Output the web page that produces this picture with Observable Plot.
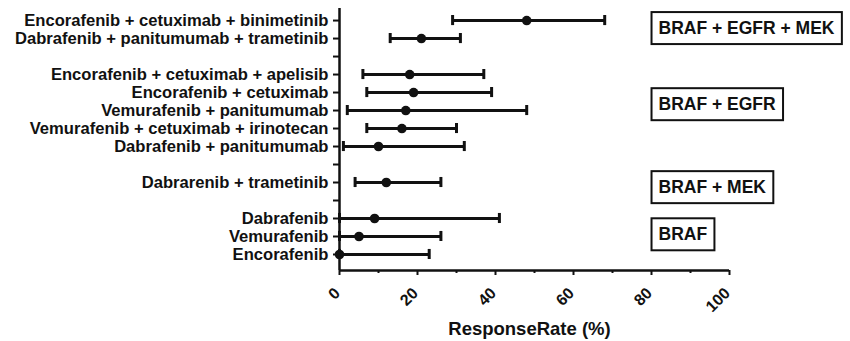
<!DOCTYPE html>
<html><head><meta charset="utf-8">
<script src="https://cdn.jsdelivr.net/npm/d3@7"></script>
<script src="https://cdn.jsdelivr.net/npm/@observablehq/plot@0.6"></script>
<style>
body{margin:0;background:#fff;}
#chart svg{font-family:"Liberation Sans",Arial,sans-serif;font-weight:bold;}
</style>
</head><body><div id="chart"></div>
<script>
// Row labels (empty strings are spacer rows that still carry a tick)
const rowLabels = [
  "Encorafenib + cetuximab + binimetinib",
  "Dabrafenib + panitumumab + trametinib",
  "",
  "Encorafenib + cetuximab + apelisib",
  "Encorafenib + cetuximab",
  "Vemurafenib + panitumumab",
  "Vemurafenib + cetuximab + irinotecan",
  "Dabrafenib + panitumumab",
  "",
  "Dabrarenib + trametinib",
  "",
  "Dabrafenib",
  "Vemurafenib",
  "Encorafenib"
];
const rowIndex     = [0, 1, 3, 4, 5, 6, 7, 9, 11, 12, 13];
const responseRate = [48, 21, 18, 19, 17, 16, 10, 12, 9, 5, 0];
const ciLow        = [29, 13, 6, 7, 2, 7, 1, 4, 0, 0, 0];
const ciHigh       = [68, 31, 37, 39, 48, 30, 32, 26, 41, 26, 23];
const groupLabels  = ["BRAF + EGFR + MEK", "BRAF + EGFR", "BRAF + MEK", "BRAF"];
const groupRow     = [0.44, 4.67, 9.28, 11.9];
const groupX       = [81.8, 81.8, 81.8, 81.8];
const xMajorTicks  = [0, 20, 40, 60, 80, 100];
const xMinorTicks  = [10, 30, 50, 70, 90];
const xTitle       = "ResponseRate (%)";

const data = rowIndex.map((r, i) => ({row: r, rate: responseRate[i], lo: ciLow[i], hi: ciHigh[i]}));
const groups = groupLabels.map((g, i) => ({label: g, row: groupRow[i], x: groupX[i]}));
const yDomain = [-0.67, 13.89];
const ink = "#111";

const plot = Plot.plot({
  width: 850,
  height: 341,
  marginLeft: 339,
  marginRight: 121,
  marginTop: 8,
  marginBottom: 71,
  style: {fontFamily: "Liberation Sans, Arial, sans-serif", fontWeight: "bold", color: ink, background: "#fff"},
  x: {domain: [0, 100]},
  y: {domain: yDomain, reverse: true},
  marks: [
    Plot.axisY({ticks: d3.range(rowLabels.length), tickFormat: i => rowLabels[i], tickSize: 6, tickPadding: 5, strokeWidth: 2, fontSize: 16.6, fill: ink, label: null}),
    Plot.axisX({ticks: xMajorTicks, tickSize: 5, strokeWidth: 2, tickFormat: () => "", label: null}),
    Plot.axisX({ticks: xMinorTicks, tickSize: 3, strokeWidth: 2, tickFormat: () => "", label: null}),
    Plot.text(xMajorTicks, {x: d => d, text: d => String(d), frameAnchor: "bottom", textAnchor: "end", lineAnchor: "middle", rotate: -45, dx: -2, dy: 20, fontSize: 16, fill: ink}),
    Plot.ruleX([0], {stroke: ink, strokeWidth: 2.5}),
    Plot.ruleY([yDomain[1]], {stroke: ink, strokeWidth: 2.5}),
    Plot.ruleY(data, {y: "row", x1: "lo", x2: "hi", stroke: ink, strokeWidth: 3}),
    Plot.ruleX(data, {x: "lo", y1: d => d.row - 0.28, y2: d => d.row + 0.28, stroke: ink, strokeWidth: 3}),
    Plot.ruleX(data, {x: "hi", y1: d => d.row - 0.28, y2: d => d.row + 0.28, stroke: ink, strokeWidth: 3}),
    Plot.dot(data, {x: "rate", y: "row", r: 4.8, fill: ink, stroke: "none"}),
    Plot.text(groups, {x: "x", y: "row", text: "label", textAnchor: "start", fontSize: 17.5, fill: ink}),
    Plot.text([xTitle], {frameAnchor: "bottom", lineAnchor: "bottom", dx: -5, dy: 64, fontSize: 18.5, fill: ink})
  ]
});
document.getElementById("chart").appendChild(plot);

// Draw frames around group labels
d3.select(plot).selectAll("text").each(function() {
  if (groupLabels.includes(this.textContent)) {
    const b = this.getBBox();
    const cy = b.y + b.height / 2;
    d3.select(this.parentNode).insert("rect", () => this)
      .attr("transform", this.getAttribute("transform"))
      .attr("x", b.x - 7).attr("y", cy - 16)
      .attr("width", b.width + 14).attr("height", 32)
      .attr("fill", "#fff").attr("stroke", ink).attr("stroke-width", 2);
  }
});
</script>
</body></html>
